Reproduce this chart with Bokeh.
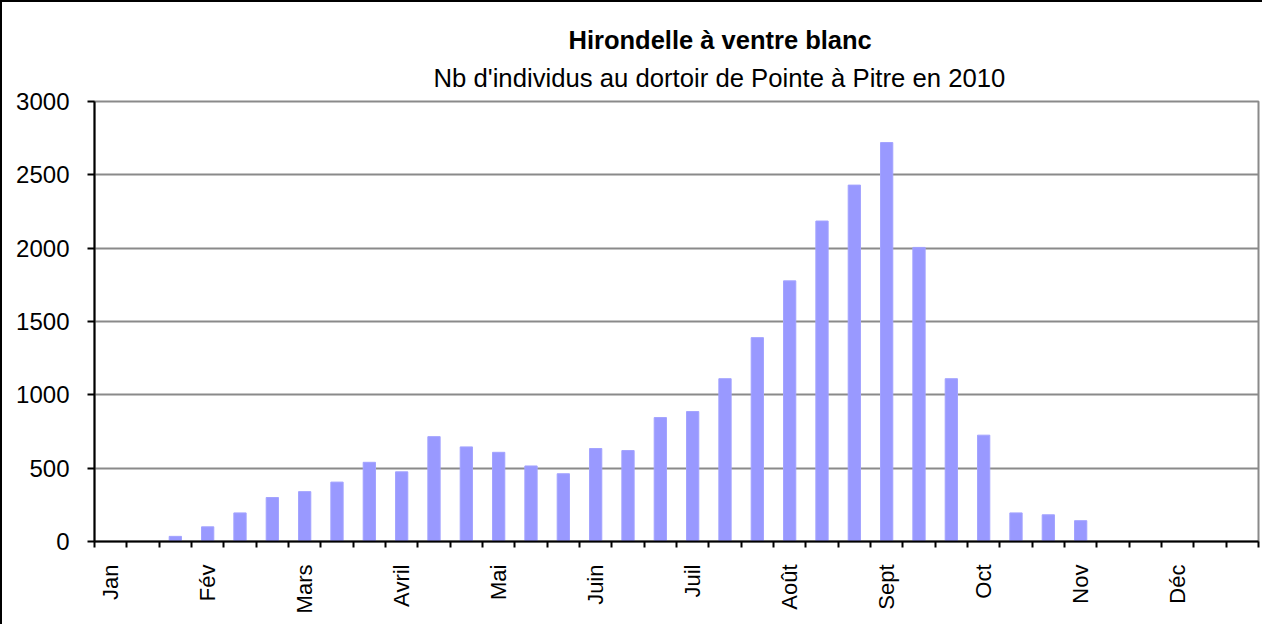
import math
from bokeh.plotting import figure
from bokeh.models import FixedTicker, Range1d, Title
from bokeh.embed import file_html
from bokeh.resources import INLINE

# ---- data ----
months = ["Jan", "Fév", "Mars", "Avril", "Mai", "Juin", "Juil", "Août", "Sept", "Oct", "Nov", "Déc"]
periods_per_month = 3
counts = [0, 0, 35, 100, 195, 300, 340, 405, 540, 475, 715, 645,
          608, 515, 462, 634, 620, 845, 886, 1110, 1390, 1777, 2185, 2430,
          2720, 2005, 1110, 725, 195, 182, 142, 0, 0, 0, 0, 0]
y_ticks = [0, 500, 1000, 1500, 2000, 2500, 3000]
title_text = "Hirondelle à ventre  blanc"
subtitle_text = "Nb d'individus au dortoir de Pointe à Pitre  en 2010"

FONT = "Liberation Sans"
n = len(counts)
xs = [i + 0.5 for i in range(n)]

p = figure(width=1262, height=624, title=None, output_backend="svg",
           toolbar_location=None, x_range=Range1d(0, n),
           y_range=Range1d(y_ticks[0], y_ticks[-1]),
           min_border_left=92, min_border_right=6, min_border_top=99,
           min_border_bottom=85)
p.styles = {"border-left": "2px solid black", "border-top": "2px solid black"}

p.vbar(x=xs, top=counts, width=0.38, fill_color="#9999FF", line_color="#A3A3FF", line_width=1)

# titles
p.add_layout(Title(text=subtitle_text, text_font=FONT, text_font_size="25.7px",
                   text_font_style="normal", align="left", offset=339,
                   text_color="black", standoff=20), "above")
p.add_layout(Title(text=title_text, text_font=FONT, text_font_size="25.5px",
                   text_font_style="bold", align="left", offset=474,
                   text_color="black", standoff=-4), "above")

# x axis
label_pos = [m * periods_per_month + 0.5 for m in range(len(months))]
p.xaxis.ticker = FixedTicker(ticks=label_pos, minor_ticks=list(range(n + 1)))
p.xaxis.major_label_overrides = {pos: lab for pos, lab in zip(label_pos, months)}
p.xaxis.major_label_orientation = math.pi / 2
p.xaxis.major_tick_out = 0
p.xaxis.major_tick_in = 0
p.xaxis.minor_tick_out = 6
p.xaxis.minor_tick_in = 0
p.xaxis.minor_tick_line_color = "black"
p.xaxis.minor_tick_line_width = 2
p.xaxis.axis_line_color = "black"
p.xaxis.axis_line_width = 2
p.xaxis.major_label_standoff = 17
p.xaxis.major_label_text_font = FONT
p.xaxis.major_label_text_font_size = "22px"
p.xaxis.major_label_text_color = "black"

# y axis
p.yaxis.ticker = FixedTicker(ticks=y_ticks)
p.yaxis.major_tick_out = 7
p.yaxis.major_tick_in = 0
p.yaxis.minor_tick_out = 0
p.yaxis.minor_tick_in = 0
p.yaxis.major_tick_line_color = "black"
p.yaxis.major_tick_line_width = 2
p.yaxis.axis_line_color = "black"
p.yaxis.axis_line_width = 2
p.yaxis.major_label_standoff = 18
p.yaxis.major_label_text_font = FONT
p.yaxis.major_label_text_font_size = "24px"
p.yaxis.major_label_text_color = "black"

p.xgrid.visible = False
p.ygrid.grid_line_color = "#8a8a8a"
p.ygrid.grid_line_width = 2
p.outline_line_color = "#8a8a8a"
p.outline_line_width = 2

open("out.html", "w").write(file_html(p, INLINE))
